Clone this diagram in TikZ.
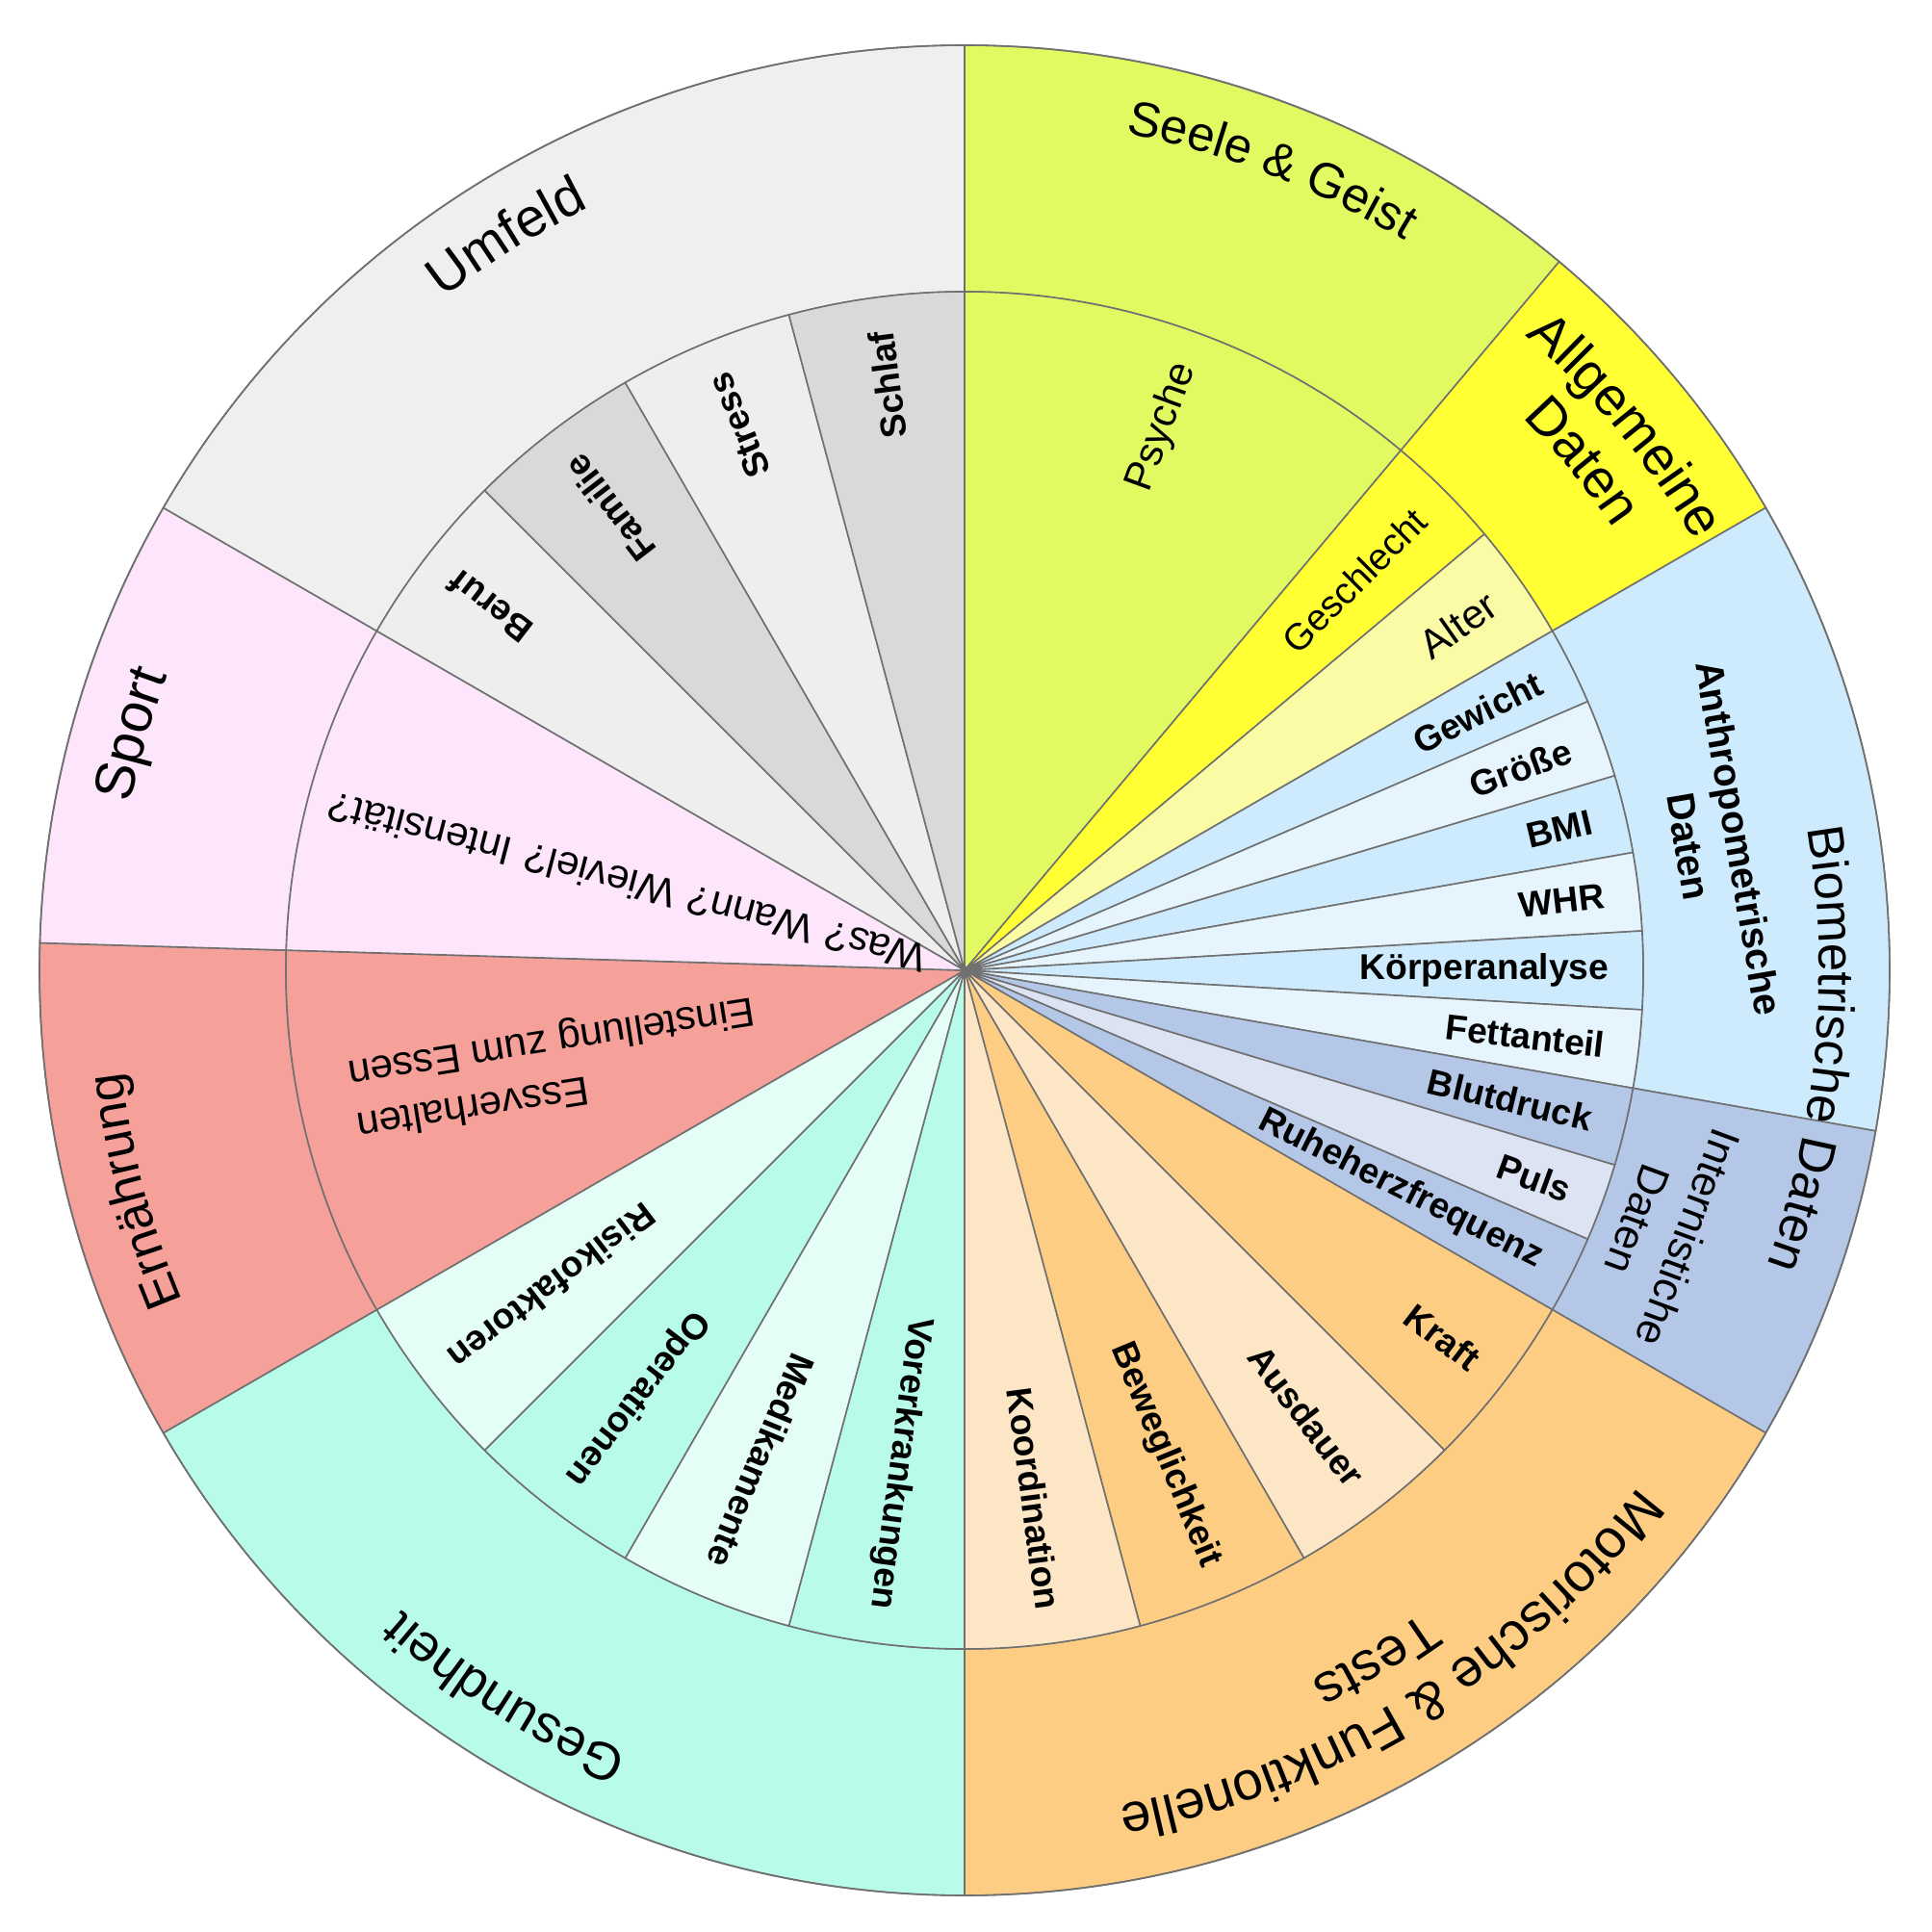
\documentclass[tikz,border=0pt]{standalone}
\usepackage{fontspec}
\setmainfont{Liberation Sans}
\usetikzlibrary{decorations.text}

\definecolor{segline}{HTML}{707070}
\definecolor{cUmfO}{HTML}{EFEFEF}
\definecolor{cUmfD}{HTML}{D9D9D9}
\definecolor{cUmfL}{HTML}{EEEEEE}
\definecolor{cSeele}{HTML}{E3F961}
\definecolor{cAllg}{HTML}{FFFF33}
\definecolor{cAlter}{HTML}{FBFBA6}
\definecolor{cBio}{HTML}{CDEBFC}
\definecolor{cBioL}{HTML}{E6F5FD}
\definecolor{cInt}{HTML}{B4C7E7}
\definecolor{cIntL}{HTML}{DCE3F2}
\definecolor{cMot}{HTML}{FDCD84}
\definecolor{cMotL}{HTML}{FDE6C6}
\definecolor{cGes}{HTML}{B8FBE8}
\definecolor{cGesL}{HTML}{E4FDF6}
\definecolor{cErn}{HTML}{F6A09A}
\definecolor{cSport}{HTML}{FDE5FC}

\newcommand{\wedgeseg}[3]{\filldraw[seg, fill=#1] (0,0) -- (#2:7.05) arc[start angle=#2, end angle=#3, radius=7.05] -- cycle;}
\newcommand{\ringseg}[3]{\filldraw[seg, fill=#1] (#2:7.05) arc[start angle=#2, end angle=#3, radius=7.05] -- (#3:9.61) arc[start angle=#3, end angle=#2, radius=9.61] -- cycle;}
\newcommand{\arclab}[4]{\path[decorate, decoration={text along path, text align=center, text={|\fontsize{#3}{#3}\selectfont|#4}}] ({#1+40}:#2) arc[start angle={#1+40}, end angle={#1-40}, radius=#2];}

\tikzset{
  seg/.style={draw=segline, line width=0.45pt},
  leafb/.style={font=\fontsize{10.6}{12}\selectfont\bfseries, inner sep=0pt, anchor=east},
  leafr/.style={font=\fontsize{12}{14}\selectfont, inner sep=0pt, anchor=east},
}

\begin{document}
\begin{tikzpicture}[x=1cm,y=1cm]
\useasboundingbox (-10.02,-9.99) rectangle (10.05,10.08);
\fill[white] (-10.02,-9.99) rectangle (10.05,10.08);

% outer ring
\ringseg{cSeele}{50}{90}
\ringseg{cAllg}{30}{50}
\ringseg{cBio}{-10}{30}
\ringseg{cInt}{-30}{-10}
\ringseg{cMot}{-90}{-30}
\ringseg{cGes}{-150}{-90}
\ringseg{cErn}{178.3}{210}
\ringseg{cSport}{150}{178.3}
\ringseg{cUmfO}{90}{150}

% inner wedges
\wedgeseg{cSeele}{50}{90}
\wedgeseg{cAllg}{40}{50}
\wedgeseg{cAlter}{30}{40}
\wedgeseg{cBio}{23.333}{30}
\wedgeseg{cBioL}{16.667}{23.333}
\wedgeseg{cBio}{10}{16.667}
\wedgeseg{cBioL}{3.333}{10}
\wedgeseg{cBio}{-3.333}{3.333}
\wedgeseg{cBioL}{-10}{-3.333}
\wedgeseg{cInt}{-16.667}{-10}
\wedgeseg{cIntL}{-23.333}{-16.667}
\wedgeseg{cInt}{-30}{-23.333}
\wedgeseg{cMot}{-45}{-30}
\wedgeseg{cMotL}{-60}{-45}
\wedgeseg{cMot}{-75}{-60}
\wedgeseg{cMotL}{-90}{-75}
\wedgeseg{cGes}{-105}{-90}
\wedgeseg{cGesL}{-120}{-105}
\wedgeseg{cGes}{-135}{-120}
\wedgeseg{cGesL}{-150}{-135}
\wedgeseg{cErn}{178.3}{210}
\wedgeseg{cSport}{150}{178.3}
\wedgeseg{cUmfL}{135}{150}
\wedgeseg{cUmfD}{120}{135}
\wedgeseg{cUmfL}{105}{120}
\wedgeseg{cUmfD}{90}{105}

\draw[seg] (0,0) circle[radius=9.61];

% leaf labels
\node[leafr, font=\fontsize{12}{14}\selectfont] (psyche) at (70:6.70) [rotate=70] {Psyche};
\node[leafr, font=\fontsize{11}{13}\selectfont] (geschl) at (45:6.70) [rotate=45] {Geschlecht};
\node[leafr] (alter) at (35:6.70) [rotate=35] {Alter};
\node[leafb] (gewicht) at (26.667:6.70) [rotate=26.667] {Gewicht};
\node[leafb] (groesse) at (20:6.70) [rotate=20] {Größe};
\node[leafb] (bmi) at (13.333:6.70) [rotate=13.333] {BMI};
\node[leafb] (whr) at (6.667:6.70) [rotate=6.667] {WHR};
\node[leafb] (koerper) at (0:6.70) [rotate=0] {Körperanalyse};
\node[leafb] (fett) at (-6.667:6.70) [rotate=-6.667] {Fettanteil};
\node[leafb] (blut) at (-13.333:6.70) [rotate=-13.333] {Blutdruck};
\node[leafb] (puls) at (-20:6.70) [rotate=-20] {Puls};
\node[leafb] (ruhe) at (-26.667:6.70) [rotate=-26.667] {Ruheherzfrequenz};
\node[leafb] (kraft) at (-37.5:6.70) [rotate=-37.5] {Kraft};
\node[leafb] (ausdauer) at (-52.5:6.70) [rotate=-52.5] {Ausdauer};
\node[leafb] (beweg) at (-67.5:6.70) [rotate=-67.5] {Beweglichkeit};
\node[leafb] (koord) at (-82.5:6.70) [rotate=-82.5] {Koordination};
\node[leafb] (vorerk) at (-97.5:6.70) [rotate=-97.5] {Vorerkrankungen};
\node[leafb] (medik) at (-112.5:6.70) [rotate=-112.5] {Medikamente};
\node[leafb] (operat) at (-127.5:6.70) [rotate=-127.5] {Operationen};
\node[leafb] (risiko) at (-142.5:6.70) [rotate=-142.5] {Risikofaktoren};
\node[leafb] (beruf) at (142.5:6.70) [rotate=142.5] {Beruf};
\node[leafb] (familie) at (127.5:6.70) [rotate=127.5] {Familie};
\node[leafb] (stress) at (112.5:6.70) [rotate=112.5] {Stress};
\node[leafb] (schlaf) at (97.5:6.70) [rotate=97.5] {Schlaf};
\node[leafr, font=\fontsize{12}{15}\selectfont] (sportleaf) at (165.5:6.82) [rotate=165.5] {Was? Wann? Wieviel? Intensität?};
\node[leafr, align=right, font=\fontsize{12}{15.5}\selectfont] (ernleaf) at (191.8:6.50) [rotate=189] {Essverhalten\\Einstellung zum Essen};

% middle labels
\node[font=\fontsize{11.5}{15}\selectfont\bfseries, align=center, inner sep=0pt, rotate=-80.3] (anthro) at (9.7:7.90) {Anthropometrische\\Daten};
\node[font=\fontsize{12.5}{16}\selectfont, align=center, inner sep=0pt, rotate=-110.3] (intern) at (-20.3:7.74) {Internistiche\\Daten};

% outer labels along arcs
\arclab{122}{8.83}{16}{Umfeld}
\arclab{69}{8.85}{14.5}{Seele {\&} Geist}
\arclab{39.5}{8.80}{16}{Allgemeine}
\arclab{39.5}{8.16}{16}{Daten}
\arclab{-5.3}{8.88}{15}{Biometrische Daten}
\arclab{-58.5}{8.82}{16}{Motorische {\&} Funktionelle}
\arclab{-59.2}{8.20}{16}{Tests}
\arclab{-122.3}{8.85}{15.5}{Gesundheit}
\arclab{194.9}{8.82}{15}{Ernährung}
\arclab{164.2}{8.83}{16.5}{Sport}
\end{tikzpicture}
\end{document}
